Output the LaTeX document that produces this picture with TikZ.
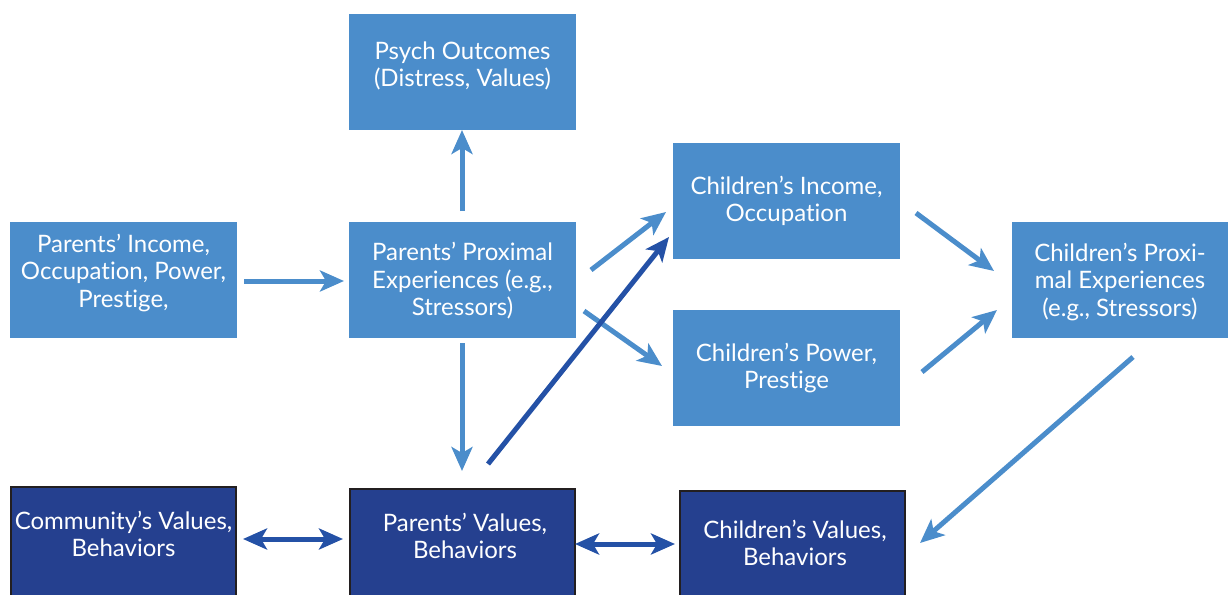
\documentclass[tikz,border=0pt]{standalone}
\usepackage{fontspec}
\setmainfont{Lato}[Ligatures=NoCommon]
\usetikzlibrary{arrows.meta}
\definecolor{lblue}{HTML}{4B8DCB}
\definecolor{dblue}{HTML}{25408F}
\definecolor{darr}{HTML}{2451A6}
\definecolor{bord}{HTML}{231F20}
\tikzset{
  lbox/.style={fill=lblue, draw=none, minimum width=227pt, minimum height=116pt, inner sep=0pt},
  dbox/.style={fill=dblue, draw=bord, line width=2.5pt, minimum width=225pt, minimum height=130pt, inner sep=0pt, anchor=north},
  txt/.style={text=white, align=center, font=\fontsize{24}{27.5}\selectfont, inner sep=0pt},
  larr/.style={draw=lblue, line width=5pt, -{Stealth[length=24pt, width=21pt, inset=6pt]}},
  darrow/.style={draw=darr, line width=5pt, -{Stealth[length=24pt, width=21pt, inset=6pt]}},
  dbl/.style={draw=darr, line width=5pt, {Stealth[length=24pt, width=21pt, inset=6pt]}-{Stealth[length=24pt, width=21pt, inset=6pt]}}
}
\begin{document}
\begin{tikzpicture}[x=1pt,y=-1pt]
\useasboundingbox (0,0) rectangle (1228,594);
% light boxes
\node[lbox] (psych) at (462.5,72) {};
\node[txt] (psycht) at (462.5,66) {Psych Outcomes\\(Distress, Values)};
\node[lbox] (pinc) at (123.5,280) {};
\node[txt] (pinct) at (123.5,273) {Parents’ Income,\\Occupation, Power,\\Prestige,};
\node[lbox] (pprox) at (462.5,280) {};
\node[txt] (pproxt) at (462.5,281) {Parents’ Proximal\\Experiences (e.g.,\\Stressors)};
\node[lbox] (cinc) at (786.5,201) {};
\node[txt] (cinct) at (786.5,201) {Children’s Income,\\Occupation};
\node[lbox] (cpow) at (786.5,368) {};
\node[txt] (cpowt) at (786.5,368) {Children’s Power,\\Prestige};
\node[lbox, minimum width=216pt] (cprox) at (1120,280) {};
\node[txt] (cproxt) at (1120,282) {Children’s Proxi-\\mal Experiences\\(e.g., Stressors)};
% dark boxes
\node[dbox] (comm) at (123.5,485.5) {};
\node[txt] (commt) at (123.5,534) {Community’s Values,\\Behaviors};
\node[dbox] (pval) at (462.5,487.5) {};
\node[txt] (pvalt) at (465,536) {Parents’ Values,\\Behaviors};
\node[dbox] (cval) at (792.5,489.5) {};
\node[txt] (cvalt) at (795,543) {Children’s Values,\\Behaviors};
% arrow end coordinates
\coordinate (a1s) at (244,281); \coordinate (a1e) at (344,281);
\coordinate (a2s) at (462,211); \coordinate (a2e) at (462,130);
\coordinate (a3s) at (462,343); \coordinate (a3e) at (462,471);
\coordinate (a4s) at (591,270); \coordinate (a4e) at (666,212);
\coordinate (a5s) at (584,311); \coordinate (a5e) at (662,366);
\coordinate (a6s) at (488,464); \coordinate (a6e) at (669,237);
\coordinate (a7s) at (916,213); \coordinate (a7e) at (994,271);
\coordinate (a8s) at (922,372); \coordinate (a8e) at (997,310);
\coordinate (a9s) at (1133,357); \coordinate (a9e) at (920,543);
\coordinate (b1s) at (243,539); \coordinate (b1e) at (343,539);
\coordinate (b2s) at (575,544); \coordinate (b2e) at (675,544);
% arrows
\draw[larr] (a1s) -- (a1e);
\draw[larr] (a2s) -- (a2e);
\draw[larr] (a3s) -- (a3e);
\draw[larr] (a4s) -- (a4e);
\draw[larr] (a5s) -- (a5e);
\draw[darrow] (a6s) -- (a6e);
\draw[larr] (a7s) -- (a7e);
\draw[larr] (a8s) -- (a8e);
\draw[larr] (a9s) -- (a9e);
\draw[dbl] (b1s) -- (b1e);
\draw[dbl] (b2s) -- (b2e);
\end{tikzpicture}
\end{document}
